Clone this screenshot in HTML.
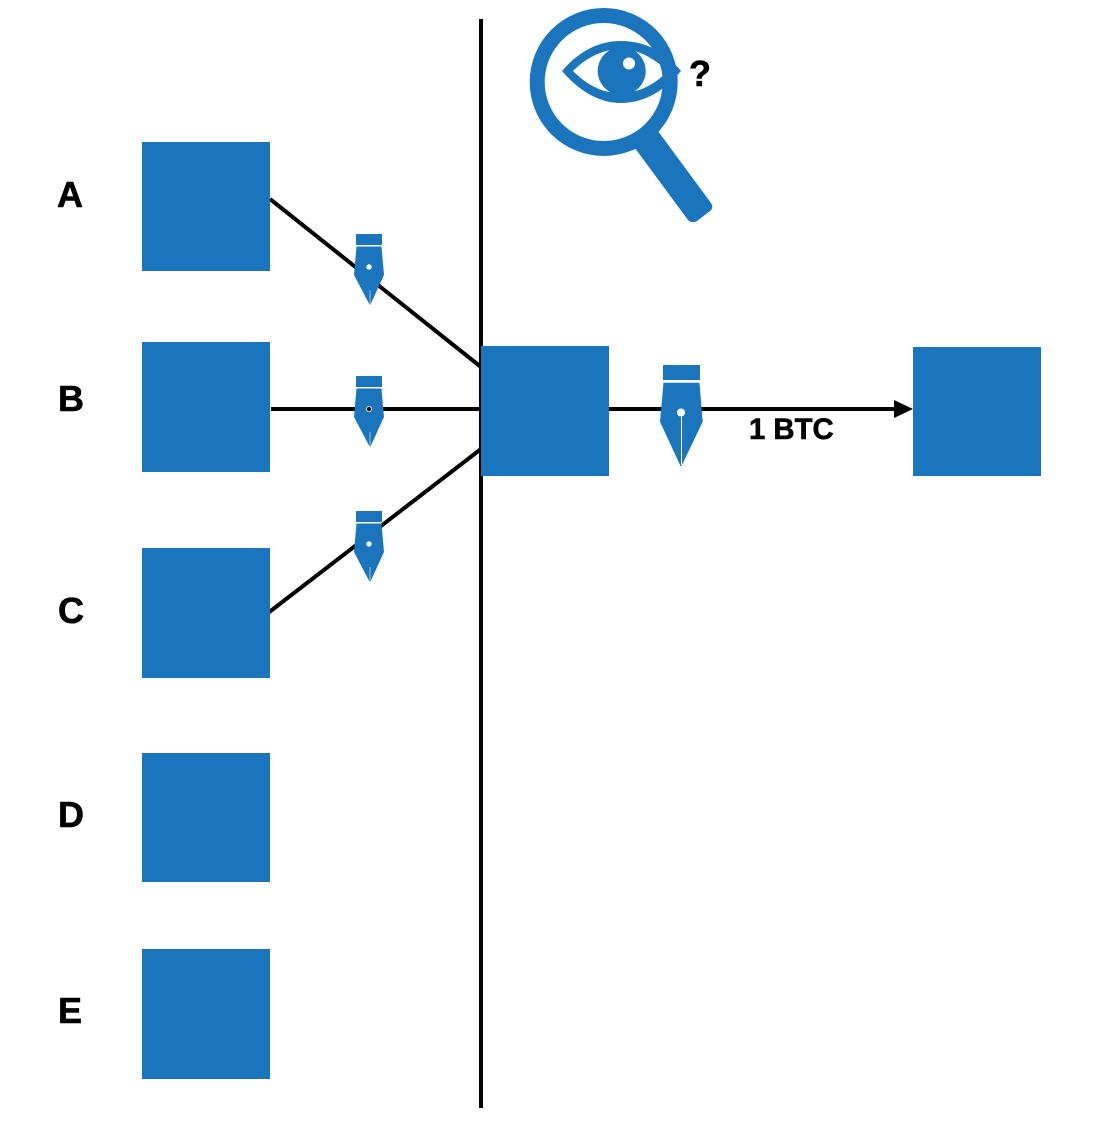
<!DOCTYPE html>
<html>
<head>
<meta charset="utf-8">
<style>
html,body{margin:0;padding:0;background:#fff}
svg{display:block}
text{font-family:"Liberation Sans",sans-serif;font-weight:700;fill:#000;stroke:#000;stroke-width:.6px}
</style>
</head>
<body>
<svg width="1112" height="1128" viewBox="0 0 1112 1128" xmlns="http://www.w3.org/2000/svg">
<defs>
<g id="pen" fill="#1b75bc">
<rect x="356" y="234" width="26" height="11"/>
<path d="M356.500 246.500H381.500L384 275L370.500 304.500L369.500 304.500L354 275Z"/>
</g>
</defs>
<rect width="1112" height="1128" fill="#fff"/>
<g stroke="#000" stroke-width="4" fill="none">
<line x1="481" y1="19" x2="481" y2="1108"/>
<line x1="270" y1="199" x2="481" y2="367"/>
<line x1="271" y1="409" x2="481" y2="409"/>
<line x1="268" y1="613" x2="481" y2="449"/>
<line x1="609" y1="409" x2="896" y2="409"/>
</g>
<path d="M894 400L913 409L894 418Z" fill="#000"/>
<g fill="#1b75bc">
<rect x="142" y="142" width="128" height="129"/>
<rect x="142" y="342" width="128" height="130"/>
<rect x="142" y="548" width="128" height="130"/>
<rect x="142" y="753" width="128" height="129"/>
<rect x="142" y="949" width="128" height="130"/>
<rect x="481" y="346" width="128" height="130"/>
<rect x="913" y="347" width="128" height="129"/>
</g>
<use href="#pen"/>
<circle cx="369" cy="267" r="2.700" fill="#fff"/>
<path d="M370 290V304" stroke="#9cc4e4" stroke-width="1"/>
<use href="#pen" y="142"/>
<circle cx="369" cy="409" r="3" fill="#fff"/>
<circle cx="369" cy="409" r="2.200" fill="#000"/>
<path d="M370 432V446" stroke="#9cc4e4" stroke-width="1"/>
<use href="#pen" y="277"/>
<circle cx="369" cy="544" r="2.700" fill="#fff"/>
<path d="M370 567V581" stroke="#9cc4e4" stroke-width="1"/>
<g fill="#1b75bc">
<rect x="663" y="365" width="37" height="15"/>
<path d="M663.500 382.700H699.500L702.700 421.700L681.500 466L680.500 466L660 421.700Z"/>
</g>
<circle cx="681" cy="412.500" r="4" fill="#fff"/>
<path d="M681.500 412V465" stroke="#fff" stroke-width="1"/>
<path d="M562 71C580 50 600 41 621 41C645 41 665 52 681 71C665 90 645 103 621 103C600 103 580 92 562 71Z" fill="#1b75bc"/>
<path d="M573 71C585 59 600 50 620 49C640 49 655 60 668 71C655 84 640 93 620 93C600 93 585 83 573 71Z" fill="#fff"/>
<circle cx="621.700" cy="71" r="24" fill="#1b75bc"/>
<circle cx="629" cy="63.500" r="6" fill="#fff"/>
<circle cx="603.700" cy="82" r="66.500" fill="none" stroke="#1b75bc" stroke-width="15"/>
<path d="M632 144L655 127L711 203Q714 208 710 211L697 221Q692 224 688 220Z" fill="#1b75bc"/>
<text x="57" y="207" font-size="36">A</text>
<text x="58" y="411" font-size="36">B</text>
<text x="58" y="623" font-size="36">C</text>
<text x="58" y="827" font-size="36">D</text>
<text x="58" y="1023" font-size="36">E</text>
<text x="689" y="86" font-size="36">?</text>
<text x="749" y="439" font-size="29.300">1 BTC</text>
</svg>
</body>
</html>
